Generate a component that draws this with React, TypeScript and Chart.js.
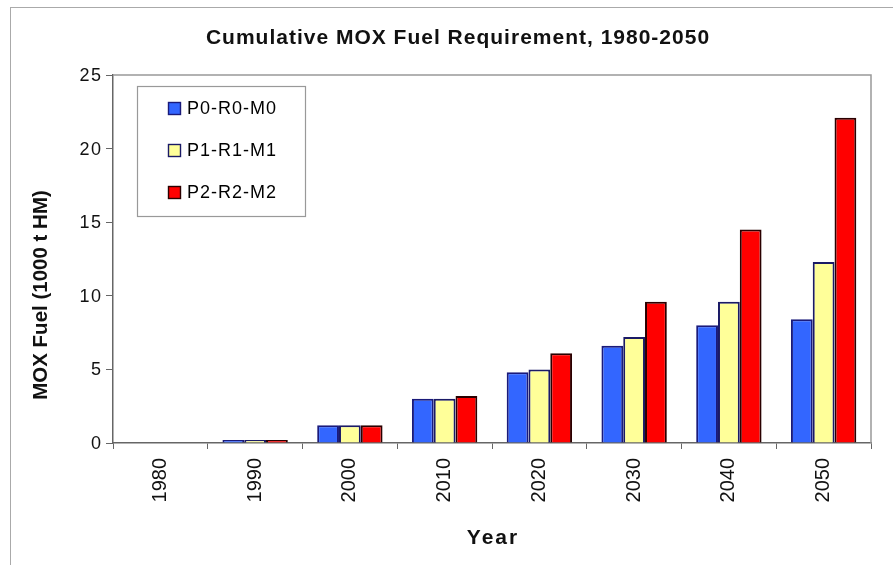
import React, { useEffect, useRef } from "react";
import { Chart, registerables } from "chart.js";

Chart.register(...registerables);

const years = ["1980", "1990", "2000", "2010", "2020", "2030", "2040", "2050"];
const p0 = [0, 0.2, 1.2, 3.0, 4.8, 6.6, 8.0, 8.4];
const p1 = [0, 0.2, 1.2, 3.0, 5.0, 7.2, 9.6, 12.3];
const p2 = [0, 0.2, 1.2, 3.2, 6.1, 9.6, 14.5, 22.1];
const seriesNames = ["P0-R0-M0", "P1-R1-M1", "P2-R2-M2"];
const yTicks = [0, 5, 10, 15, 20, 25];
const titleText = "Cumulative MOX Fuel Requirement, 1980-2050";
const xTitle = "Year";
const yTitle = "MOX Fuel (1000 t HM)";
const fills = ["#3366FF", "#FFFF99", "#FF0000"];
const edges = ["#1a1a7a", "#1a1a66", "#2a0000"];

const FONT = "'Liberation Sans', Arial, sans-serif";

const texts = {
  id: "texts",
  afterDraw(chart: any) {
    const { ctx, chartArea } = chart;
    const y = chart.scales.y;
    ctx.save();
    ctx.fillStyle = "#111";
    ctx.font = `bold 21px ${FONT}`;
    (ctx as any).letterSpacing = "1px";
    ctx.textAlign = "center";
    ctx.textBaseline = "middle";
    ctx.fillText(titleText, 458, 38);
    ctx.font = `bold 21px ${FONT}`;
    (ctx as any).letterSpacing = "2px";
    ctx.fillText(xTitle, (chartArea.left + chartArea.right) / 2 + 1, 538);
    ctx.font = `18px ${FONT}`;
    (ctx as any).letterSpacing = "1.5px";
    ctx.textAlign = "right";
    yTicks.forEach((v) => {
      ctx.fillText(String(v), 102.5, y.getPixelForValue(v) + 1);
    });
    ctx.save();
    ctx.translate(41, 295);
    ctx.rotate(-Math.PI / 2);
    ctx.font = `bold 20.5px ${FONT}`;
    (ctx as any).letterSpacing = "0px";
    ctx.textAlign = "center";
    ctx.fillText(yTitle, 0, 0);
    ctx.restore();
    ctx.restore();
  },
};

const boxLegend = {
  id: "boxLegend",
  afterDraw(chart: any) {
    const ctx = chart.ctx;
    ctx.save();
    const x0 = 137, y0 = 86, w = 168, h = 130;
    ctx.fillStyle = "#fff";
    ctx.fillRect(x0, y0, w, h);
    ctx.strokeStyle = "#999";
    ctx.lineWidth = 1.2;
    ctx.strokeRect(x0 + 0.5, y0 + 0.5, w, h);
    ctx.font = `18px ${FONT}`;
    (ctx as any).letterSpacing = "1px";
    ctx.textBaseline = "middle";
    ctx.textAlign = "left";
    chart.data.datasets.forEach((ds: any, i: number) => {
      const cy = 108 + i * 42;
      ctx.fillStyle = ds.backgroundColor;
      ctx.fillRect(168, cy - 6, 13, 13);
      ctx.strokeStyle = ds.borderColor;
      ctx.lineWidth = 1.4;
      ctx.strokeRect(168.5, cy - 5.5, 12, 12);
      ctx.fillStyle = "#000";
      ctx.fillText(ds.label, 187, cy + 1);
    });
    ctx.restore();
  },
};

const frame = {
  id: "frame",
  afterDatasetsDraw(chart: any) {
    const { ctx, chartArea } = chart;
    ctx.save();
    ctx.strokeStyle = "#999";
    ctx.lineWidth = 1.5;
    ctx.beginPath();
    ctx.moveTo(chartArea.left, chartArea.top);
    ctx.lineTo(chartArea.right, chartArea.top);
    ctx.lineTo(chartArea.right, chartArea.bottom);
    ctx.stroke();
    ctx.restore();
  },
};

export default function App() {
  const ref = useRef<HTMLCanvasElement>(null);
  useEffect(() => {
    document.body.style.margin = "0";
    const chart = new Chart(ref.current!, {
      type: "bar",
      data: {
        labels: years,
        datasets: [p0, p1, p2].map((d, i) => ({
          label: seriesNames[i],
          data: d,
          backgroundColor: fills[i],
          borderColor: edges[i],
          borderWidth: 2,
          borderSkipped: "start",
          barPercentage: 1,
          categoryPercentage: 0.69,
        })),
      },
      options: {
        animation: false,
        responsive: false,
        maintainAspectRatio: false,
        layout: { padding: { left: 0, right: 22, top: 75, bottom: 0 } },
        plugins: {
          legend: { display: false },
          tooltip: { enabled: false },
          title: { display: false },
        },
        scales: {
          x: {
            grid: { display: true, drawOnChartArea: false, tickLength: 6, color: "#666", offset: true },
            border: { color: "#666", width: 1.5 },
            ticks: {
              color: "#111",
              font: { family: FONT, size: 20 },
              minRotation: 90,
              maxRotation: 90,
              padding: 9,
            },
            afterFit(scale: any) {
              scale.height = 122;
            },
          },
          y: {
            min: 0,
            max: 25,
            grid: { display: true, drawOnChartArea: false, tickLength: 7, color: "#666" },
            border: { color: "#666", width: 1.5 },
            ticks: { stepSize: 5, display: false },
            afterFit(scale: any) {
              scale.width = 113;
            },
          },
        },
      },
      plugins: [frame, boxLegend, texts],
    });
    return () => chart.destroy();
  }, []);
  return (
    <div style={{ position: "relative", width: 893, height: 565, overflow: "hidden", background: "#fff" }}>
      <div
        style={{
          position: "absolute",
          left: 10,
          top: 7,
          width: 900,
          height: 600,
          borderLeft: "1px solid #aaa",
          borderTop: "1px solid #aaa",
        }}
      />
      <canvas ref={ref} width={893} height={565} style={{ position: "absolute", left: 0, top: 0 }} />
    </div>
  );
}
